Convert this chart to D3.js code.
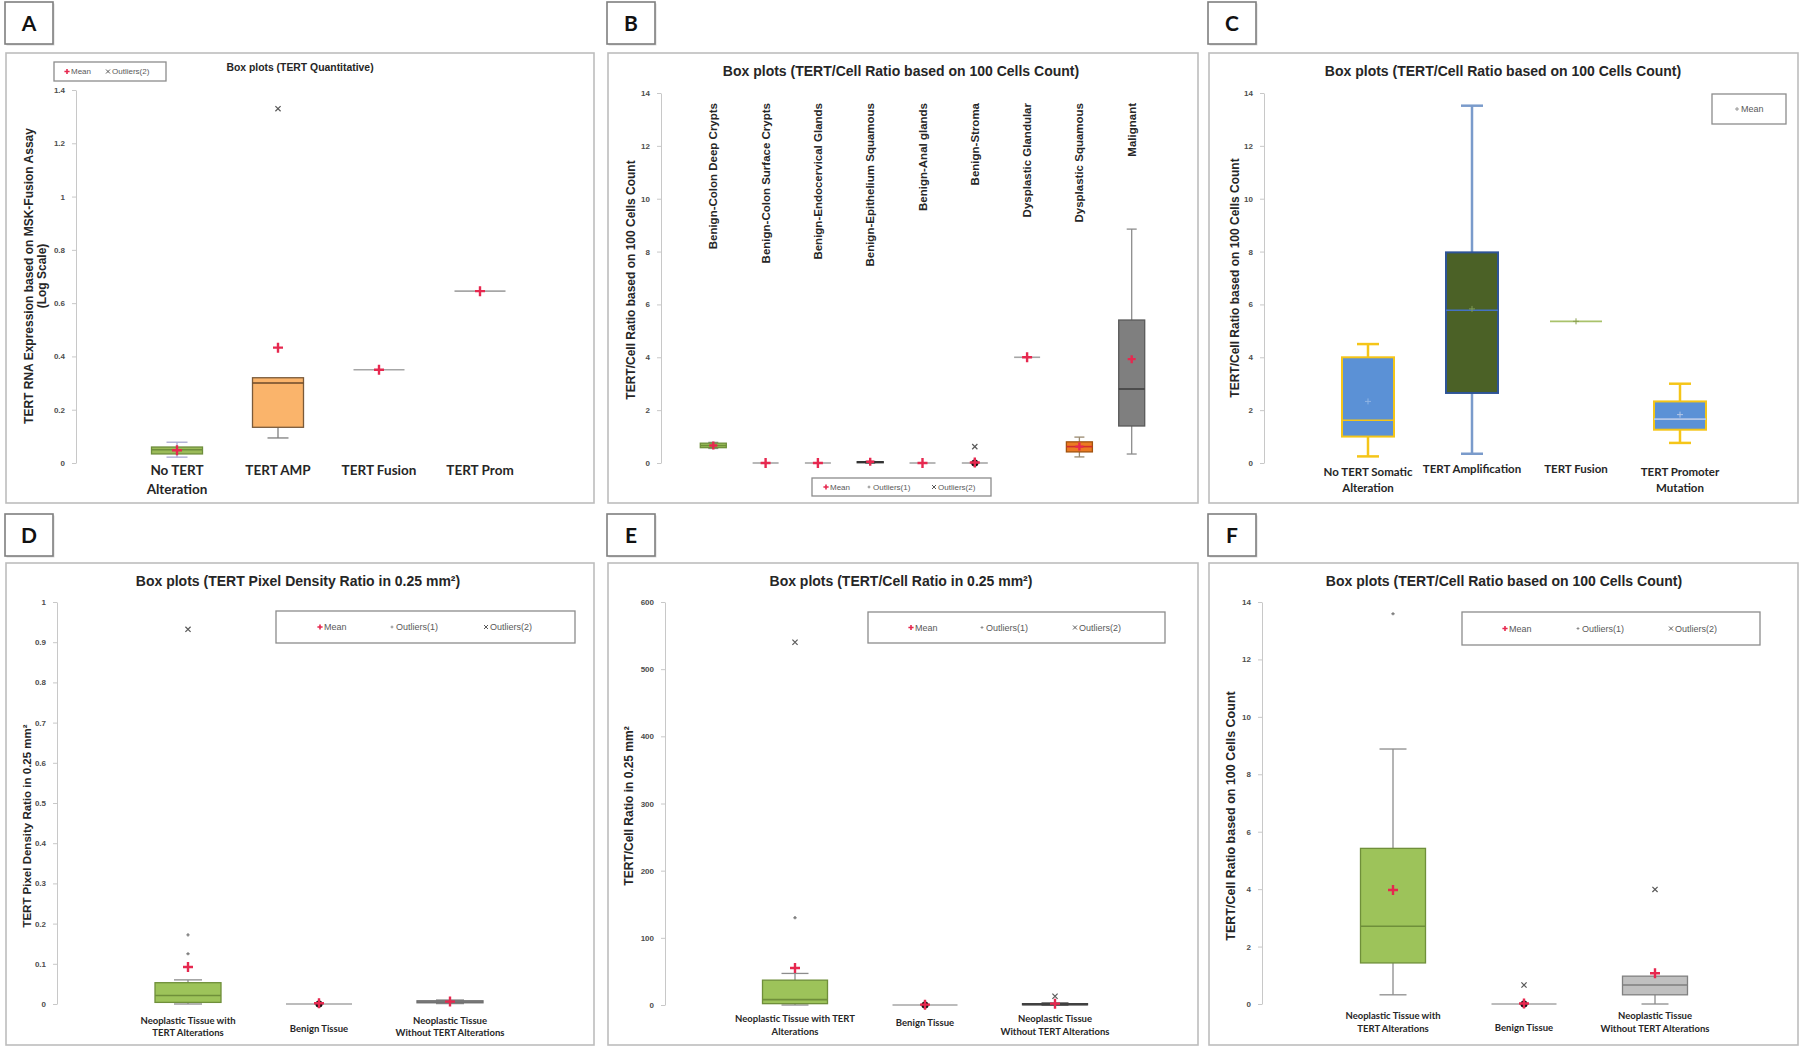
<!DOCTYPE html>
<html><head><meta charset="utf-8">
<script src="https://cdn.jsdelivr.net/npm/d3@7"></script>
<style>body{margin:0;background:#fff;} svg{display:block;}</style>
</head><body>
<svg id="fig" width="1800" height="1047"></svg>
<script>
// ================= DATA =================
// Panel A - TERT Quantitative
const catsA = ["No TERT\nAlteration", "TERT AMP", "TERT Fusion", "TERT Prom"];
const lowA  = [0.022, 0.094, 0.35, 0.645];
const q1A   = [0.034, 0.134, 0.35, 0.645];
const medA  = [0.050, 0.300, 0.35, 0.645];
const q3A   = [0.060, 0.320, 0.35, 0.645];
const highA = [0.078, 0.320, 0.35, 0.645];
const meanA = [0.048, 0.433, 0.35, 0.645];
const out2A = [[], [1.33], [], []];
const ticksA = [0, 0.2, 0.4, 0.6, 0.8, 1, 1.2, 1.4];

// Panel B - TERT/Cell ratio by tissue
const catsB = ["Benign-Colon Deep Crypts", "Benign-Colon Surface Crypts", "Benign-Endocervical Glands",
  "Benign-Epithelium Squamous", "Benign-Anal  glands", "Benign-Stroma", "Dysplastic Glandular",
  "Dysplastic Squamous", "Malignant"];
const lowB  = [0.55, 0, 0, 0.00, 0, 0, 4.0, 0.23, 0.34];
const q1B   = [0.58, 0, 0, 0.01, 0, 0, 4.0, 0.42, 1.40];
const medB  = [0.66, 0, 0, 0.03, 0, 0, 4.0, 0.62, 2.80];
const q3B   = [0.75, 0, 0, 0.05, 0, 0, 4.0, 0.80, 5.41];
const highB = [0.78, 0, 0, 0.06, 0, 0, 4.0, 0.98, 8.85];
const meanB = [0.66, 0, 0, 0.05, 0, 0.02, 4.0, 0.62, 3.93];
const out2B = [[], [], [], [], [], [0.62], [], [], []];
const pileB = [[], [], [], [], [], [0], [], [], []];
const ticksB = [0, 2, 4, 6, 8, 10, 12, 14];

// Panel C - TERT/Cell ratio by alteration
const catsC = ["No TERT Somatic\nAlteration", "TERT Amplification", "TERT Fusion", "TERT Promoter\nMutation"];
const lowC  = [0.25, 0.35, 5.36, 0.76];
const q1C   = [1.00, 2.65, 5.36, 1.26];
const medC  = [1.62, 5.78, 5.36, 1.66];
const q3C   = [4.00, 7.97, 5.36, 2.33];
const highC = [4.50, 13.52, 5.36, 3.00];
const meanC = [2.33, 5.83, 5.36, 1.83];
const ticksC = [0, 2, 4, 6, 8, 10, 12, 14];

// Panel D - Pixel density ratio
const catsD = ["Neoplastic Tissue with\nTERT Alterations", "Benign Tissue", "Neoplastic Tissue\nWithout TERT Alterations"];
const lowD  = [0.000, 0, 0.001];
const q1D   = [0.004, 0, 0.003];
const medD  = [0.021, 0, 0.005];
const q3D   = [0.053, 0, 0.008];
const highD = [0.060, 0, 0.010];
const meanD = [0.092, 0.002, 0.006];
const out1D = [[0.125, 0.172], [], []];
const out2D = [[0.932], [], []];
const pileD = [[], [0], []];
const ticksD = [0, 0.1, 0.2, 0.3, 0.4, 0.5, 0.6, 0.7, 0.8, 0.9, 1];

// Panel E - TERT/Cell ratio in 0.25 mm2
const catsE = ["Neoplastic Tissue with TERT\nAlterations", "Benign Tissue", "Neoplastic Tissue\nWithout TERT Alterations"];
const lowE  = [0, 0, 0];
const q1E   = [2, 0, 0.3];
const medE  = [8, 0, 1];
const q3E   = [37, 0, 2];
const highE = [47, 0, 3];
const meanE = [55, 0.5, 2];
const out1E = [[130], [], []];
const out2E = [[540], [], [13]];
const pileE = [[], [0], []];
const ticksE = [0, 100, 200, 300, 400, 500, 600];

// Panel F - TERT/Cell ratio based on 100 cells
const catsF = ["Neoplastic Tissue with\nTERT Alterations", "Benign Tissue", "Neoplastic Tissue\nWithout TERT Alterations"];
const lowF  = [0.32, 0, 0];
const q1F   = [1.43, 0, 0.32];
const medF  = [2.71, 0, 0.66];
const q3F   = [5.42, 0, 0.97];
const highF = [8.88, 0, 0.97];
const meanF = [3.97, 0.02, 1.07];
const out1F = [[13.59], [], []];
const out2F = [[], [0.66], [3.99]];
const pileF = [[], [0], []];
const ticksF = [0, 2, 4, 6, 8, 10, 12, 14];

// ================= STYLES =================
const FONT = "'Liberation Sans', Arial, sans-serif";
const FONT2 = "Lato, 'Liberation Sans', sans-serif";
const RED = "#e6284f";
const GREEN = {fill: "#9dc35a", stroke: "#6f8f3a", med: "#6f8f3a", whisk: "#8c8c8c"};
const FLAT = {fill: "none", stroke: "#a6a6a6", med: "#a6a6a6", whisk: "#a6a6a6"};
const redMean = {meanColor: RED, meanSize: 5, meanWidth: 2.4};

const styleA = [
  {fill: "#9bbb59", stroke: "#6e8e3c", med: "#6e8e3c", whisk: "#a8a8d0", ...redMean},
  {fill: "#fab46b", stroke: "#7a5a3a", med: "#6b4a2a", whisk: "#7f7f7f", ...redMean},
  {...FLAT, ...redMean}, {...FLAT, ...redMean}];
const styleB = catsB.map((c, i) =>
  i === 0 ? {...GREEN, ...redMean, meanSize: 4} :
  i === 3 ? {fill: "#555", stroke: "#333", med: "#333", whisk: "#555", ...redMean, meanSize: 4} :
  i === 7 ? {fill: "#ec7a22", stroke: "#a0520f", med: "#d0302a", whisk: "#9a8a70", ...redMean, meanSize: 4} :
  i === 8 ? {fill: "#7f7f7f", stroke: "#5a5a5a", med: "#3f3f3f", whisk: "#8c8c8c", ...redMean, meanSize: 4} :
  {...FLAT, ...redMean, meanSize: 5});
const styleC = [
  {fill: "#5b91d6", stroke: "#f5c518", med: "#f5c518", whisk: "#f5c518", meanColor: "#8fb4e3", meanSize: 3, meanWidth: 1, whiskW: 2.5},
  {fill: "#4b6126", stroke: "#2e5496", med: "#4472c4", whisk: "#7a9bcb", meanColor: "#7f9a55", meanSize: 3, meanWidth: 1, whiskW: 2.5},
  {fill: "none", stroke: "#a9c26b", med: "#a9c26b", whisk: "#a9c26b", meanColor: "#8aa050", meanSize: 3, meanWidth: 1},
  {fill: "#5b91d6", stroke: "#f5c518", med: "#b4c7e7", whisk: "#f5c518", meanColor: "#b4c7e7", meanSize: 3, meanWidth: 1, whiskW: 2.5}];
const styleD = [{...GREEN, ...redMean}, {...FLAT, ...redMean}, {fill: "#a6a6a6", stroke: "#6f6f6f", med: "#6f6f6f", whisk: "#8c8c8c", ...redMean}];
const styleE = [{...GREEN, ...redMean}, {...FLAT, ...redMean}, {fill: "#404040", stroke: "#404040", med: "#404040", whisk: "#404040", ...redMean}];
const styleF = [{...GREEN, ...redMean}, {...FLAT, ...redMean}, {fill: "#c0c0c0", stroke: "#808080", med: "#7f7f7f", whisk: "#8c8c8c", ...redMean}];

function rowsOf(cats, low, q1, med, q3, high, mean, out1, out2, pile, style) {
  return cats.map((c, i) => ({cat: c, low: low[i], q1: q1[i], med: med[i], q3: q3[i], high: high[i], mean: mean[i],
    out1: out1 ? out1[i] : [], out2: out2 ? out2[i] : [], pile: pile ? pile[i] : [], st: style[i]}));
}
const fmt1 = d => String(+d.toFixed(1));
const fmt0 = d => String(d);

const panels = [
  {letter: "A", lbl: [5, 2], frame: [6, 53, 588, 450], xr: [76, 581], yd: [0, 1.4], yr: [463, 90], ticks: ticksA, fmt: fmt1,
   bw: 51, capW: 21, rows: rowsOf(catsA, lowA, q1A, medA, q3A, highA, meanA, null, out2A, null, styleA),
   title: "Box plots (TERT Quantitative)", titlePos: [300, 71], titleSize: 10.4,
   ylab: ["TERT RNA Expression based on MSK-Fusion Assay", "(Log Scale)"], ylabX: [29, 42], ylabY: 276, ylabSize: 12,
   catFont: FONT2, catSize: 13.5, catY: 475, catLH: 19, catSingleY: 475, legSize: 8,
   legend: {box: [54, 62, 112, 19], items: [{t: "mean", x: 67, label: "Mean"}, {t: "out2", x: 108, label: "Outliers(2)"}]}},
  {letter: "B", lbl: [607, 2], frame: [608, 53, 590, 450], xr: [661, 1184], yd: [0, 14], yr: [463, 93], ticks: ticksB, fmt: fmt0,
   bw: 26, capW: 10, rows: rowsOf(catsB, lowB, q1B, medB, q3B, highB, meanB, null, out2B, pileB, styleB),
   title: "Box plots (TERT/Cell Ratio based on 100 Cells Count)", titlePos: [901, 76], titleSize: 14,
   ylab: ["TERT/Cell Ratio based on 100 Cells Count"], ylabX: [631], ylabY: 280, ylabSize: 12,
   rotateCats: true, catTop: 103, catSize: 11.5, catFont: FONT, legSize: 8,
   legend: {box: [812, 478, 179, 18], items: [{t: "mean", x: 826, label: "Mean"}, {t: "out1", x: 869, label: "Outliers(1)"}, {t: "out2", x: 934, label: "Outliers(2)"}]}},
  {letter: "C", lbl: [1208, 2], frame: [1209, 53, 589, 450], xr: [1264, 1784], yd: [0, 14], yr: [463, 93], ticks: ticksC, fmt: fmt0,
   bw: 52, capW: 22, rows: rowsOf(catsC, lowC, q1C, medC, q3C, highC, meanC, null, null, null, styleC),
   title: "Box plots (TERT/Cell Ratio based on 100 Cells Count)", titlePos: [1503, 76], titleSize: 14,
   ylab: ["TERT/Cell Ratio based on 100 Cells Count"], ylabX: [1235], ylabY: 278, ylabSize: 12,
   catFont: FONT2, catSize: 11.5, catY: 476, catLH: 16, catSingleY: 473, legSize: 9,
   legend: {box: [1712, 94, 74, 30], items: [{t: "meanC", x: 1737, label: "Mean"}]}},
  {letter: "D", lbl: [5, 514], frame: [6, 563, 588, 482], xr: [57, 581], yd: [0, 1], yr: [1004, 602], ticks: ticksD, fmt: fmt1,
   bw: 66, capW: 28, rows: rowsOf(catsD, lowD, q1D, medD, q3D, highD, meanD, out1D, out2D, pileD, styleD),
   title: "Box plots (TERT Pixel Density Ratio in 0.25 mm²)", titlePos: [298, 586], titleSize: 14,
   ylab: ["TERT Pixel Density Ratio in 0.25 mm²"], ylabX: [27], ylabY: 826, ylabSize: 11.5,
   catFont: FONT2, catSize: 9.5, catY: 1024, catLH: 12, catSingleY: 1032, legSize: 9,
   legend: {box: [276, 611, 299, 32], items: [{t: "mean", x: 320, label: "Mean"}, {t: "out1", x: 392, label: "Outliers(1)"}, {t: "out2", x: 486, label: "Outliers(2)"}]}},
  {letter: "E", lbl: [607, 514], frame: [608, 563, 590, 482], xr: [665, 1185], yd: [0, 600], yr: [1005, 602], ticks: ticksE, fmt: fmt0,
   bw: 65, capW: 27, rows: rowsOf(catsE, lowE, q1E, medE, q3E, highE, meanE, out1E, out2E, pileE, styleE),
   title: "Box plots (TERT/Cell Ratio in 0.25 mm²)", titlePos: [901, 586], titleSize: 14,
   ylab: ["TERT/Cell Ratio in 0.25 mm²"], ylabX: [629], ylabY: 806, ylabSize: 12,
   catFont: FONT2, catSize: 9.5, catY: 1022, catLH: 13, catSingleY: 1026, legSize: 9,
   legend: {box: [868, 612, 297, 31], items: [{t: "mean", x: 911, label: "Mean"}, {t: "out1", x: 982, label: "Outliers(1)"}, {t: "out2", x: 1075, label: "Outliers(2)"}]}},
  {letter: "F", lbl: [1208, 514], frame: [1209, 563, 589, 482], xr: [1262, 1786], yd: [0, 14], yr: [1004, 602], ticks: ticksF, fmt: fmt0,
   bw: 65, capW: 27, rows: rowsOf(catsF, lowF, q1F, medF, q3F, highF, meanF, out1F, out2F, pileF, styleF),
   title: "Box plots (TERT/Cell Ratio based on 100 Cells Count)", titlePos: [1504, 586], titleSize: 14,
   ylab: ["TERT/Cell Ratio based on 100 Cells Count"], ylabX: [1231], ylabY: 816, ylabSize: 12.5,
   catFont: FONT2, catSize: 9.5, catY: 1019, catLH: 13, catSingleY: 1031, legSize: 9,
   legend: {box: [1462, 612, 298, 33], items: [{t: "mean", x: 1505, label: "Mean"}, {t: "out1", x: 1578, label: "Outliers(1)"}, {t: "out2", x: 1671, label: "Outliers(2)"}]}}
];

// ================= DRAW =================
const svg = d3.select("#fig");
svg.append("rect").attr("width", 1800).attr("height", 1047).attr("fill", "#fff");

const plusPath = s => `M${-s},0H${s}M0,${-s}V${s}`;
const xPath = s => `M${-s},${-s}L${s},${s}M${-s},${s}L${s},${-s}`;

function drawPanel(p) {
  const g = svg.append("g");
  // letter box
  g.append("rect").attr("x", p.lbl[0] + 1.5).attr("y", p.lbl[1] + 1.5).attr("width", 48).attr("height", 42)
    .attr("fill", "#d9d9d9");
  g.append("rect").attr("x", p.lbl[0]).attr("y", p.lbl[1]).attr("width", 48).attr("height", 42)
    .attr("fill", "#fff").attr("stroke", "#7f7f7f").attr("stroke-width", 1.6);
  g.append("text").attr("x", p.lbl[0] + 24).attr("y", p.lbl[1] + 29).attr("text-anchor", "middle")
    .attr("font-family", FONT2).attr("font-weight", "bold").attr("font-size", 21).attr("fill", "#111").text(p.letter);
  // frame
  g.append("rect").attr("x", p.frame[0]).attr("y", p.frame[1]).attr("width", p.frame[2]).attr("height", p.frame[3])
    .attr("fill", "#fff").attr("stroke", "#bdbdbd").attr("stroke-width", 1.6);

  const x = d3.scalePoint().domain(p.rows.map(r => r.cat)).range(p.xr).padding(1);
  const y = d3.scaleLinear().domain(p.yd).range(p.yr);

  // axis
  const ax = g.append("g").attr("transform", `translate(${p.xr[0]},0)`)
    .call(d3.axisLeft(y).tickValues(p.ticks).tickFormat(p.fmt).tickSize(4).tickSizeOuter(0).tickPadding(7));
  ax.select(".domain").attr("stroke", "#c8c8c8");
  ax.selectAll(".tick line").attr("stroke", "#c8c8c8");
  ax.selectAll(".tick text").attr("font-family", FONT).attr("font-weight", "bold").attr("font-size", 8).attr("fill", "#4d4d4d");

  // title
  g.append("text").attr("x", p.titlePos[0]).attr("y", p.titlePos[1]).attr("text-anchor", "middle")
    .attr("font-family", FONT).attr("font-weight", "bold").attr("font-size", p.titleSize).attr("fill", "#262626").text(p.title);

  // y-axis title
  p.ylab.forEach((t, i) => {
    g.append("text").attr("transform", `translate(${p.ylabX[i]},${p.ylabY}) rotate(-90)`).attr("dy", "0.35em")
      .attr("text-anchor", "middle").attr("font-family", FONT).attr("font-weight", "bold")
      .attr("font-size", p.ylabSize).attr("fill", "#262626").text(t);
  });

  // category labels
  p.rows.forEach(r => {
    const cx = x(r.cat);
    if (p.rotateCats) {
      g.append("text").attr("transform", `translate(${cx},${p.catTop}) rotate(-90)`).attr("dy", "0.35em")
        .attr("text-anchor", "end").attr("font-family", p.catFont).attr("font-weight", "bold")
        .attr("font-size", p.catSize).attr("fill", "#262626").text(r.cat);
    } else {
      const lines = r.cat.split("\n");
      const t = g.append("text").attr("text-anchor", "middle").attr("font-family", p.catFont)
        .attr("font-weight", "bold").attr("font-size", p.catSize).attr("fill", "#262626");
      lines.forEach((ln, k) => {
        t.append("tspan").attr("x", cx).attr("y", (lines.length > 1 ? p.catY : p.catSingleY) + k * p.catLH).text(ln);
      });
    }
  });

  // boxes
  p.rows.forEach(r => {
    const cx = x(r.cat), st = r.st, hw = p.bw / 2, cw = p.capW / 2;
    const ww = st.whiskW || 1.3;
    const bg = g.append("g");
    if (r.high > r.q3) {
      bg.append("line").attr("x1", cx).attr("x2", cx).attr("y1", y(r.q3)).attr("y2", y(r.high)).attr("stroke", st.whisk).attr("stroke-width", ww);
      bg.append("line").attr("x1", cx - cw).attr("x2", cx + cw).attr("y1", y(r.high)).attr("y2", y(r.high)).attr("stroke", st.whisk).attr("stroke-width", ww);
    }
    if (r.low < r.q1) {
      bg.append("line").attr("x1", cx).attr("x2", cx).attr("y1", y(r.q1)).attr("y2", y(r.low)).attr("stroke", st.whisk).attr("stroke-width", ww);
      bg.append("line").attr("x1", cx - cw).attr("x2", cx + cw).attr("y1", y(r.low)).attr("y2", y(r.low)).attr("stroke", st.whisk).attr("stroke-width", ww);
    }
    if (r.q3 > r.q1) {
      bg.append("rect").attr("x", cx - hw).attr("y", y(r.q3)).attr("width", p.bw).attr("height", Math.max(0.6, y(r.q1) - y(r.q3)))
        .attr("fill", st.fill).attr("stroke", st.stroke).attr("stroke-width", st.whiskW ? 2 : 1.3);
      bg.append("line").attr("x1", cx - hw).attr("x2", cx + hw).attr("y1", y(r.med)).attr("y2", y(r.med))
        .attr("stroke", st.med).attr("stroke-width", 1.6);
    } else {
      bg.append("line").attr("x1", cx - hw).attr("x2", cx + hw).attr("y1", y(r.med)).attr("y2", y(r.med))
        .attr("stroke", st.stroke).attr("stroke-width", 1.6);
    }
    r.pile.forEach(v => bg.append("circle").attr("cx", cx).attr("cy", y(v)).attr("r", 3.6).attr("fill", "#111"));
    r.out1.forEach(v => bg.append("path").attr("transform", `translate(${cx},${y(v)})`).attr("d", plusPath(1.6))
      .attr("stroke", "#7f7f7f").attr("stroke-width", 1.4));
    r.out2.forEach(v => bg.append("path").attr("transform", `translate(${cx},${y(v)})`).attr("d", xPath(2.6))
      .attr("stroke", "#595959").attr("stroke-width", 1.2));
    bg.append("path").attr("transform", `translate(${cx},${y(r.mean)})`).attr("d", plusPath(st.meanSize))
      .attr("stroke", st.meanColor).attr("stroke-width", st.meanWidth);
  });

  // legend
  const L = p.legend;
  g.append("rect").attr("x", L.box[0]).attr("y", L.box[1]).attr("width", L.box[2]).attr("height", L.box[3])
    .attr("fill", "#fff").attr("stroke", "#8c8c8c").attr("stroke-width", 1.3);
  const ly = L.box[1] + L.box[3] / 2;
  L.items.forEach(it => {
    let m;
    if (it.t === "mean") m = g.append("path").attr("d", plusPath(2.6)).attr("stroke", RED).attr("stroke-width", 1.6);
    else if (it.t === "meanC") m = g.append("path").attr("d", plusPath(2)).attr("stroke", "#8c8c8c").attr("stroke-width", 0.9);
    else if (it.t === "out1") m = g.append("path").attr("d", plusPath(1.4)).attr("stroke", "#8c8c8c").attr("stroke-width", 1);
    else m = g.append("path").attr("d", xPath(2)).attr("stroke", "#595959").attr("stroke-width", 1);
    m.attr("transform", `translate(${it.x},${ly})`);
    g.append("text").attr("x", it.x + 4).attr("y", ly).attr("dy", "0.35em").attr("font-family", FONT)
      .attr("font-size", p.legSize).attr("fill", "#595959").text(it.label);
  });
}

panels.forEach(drawPanel);
</script>
</body></html>
